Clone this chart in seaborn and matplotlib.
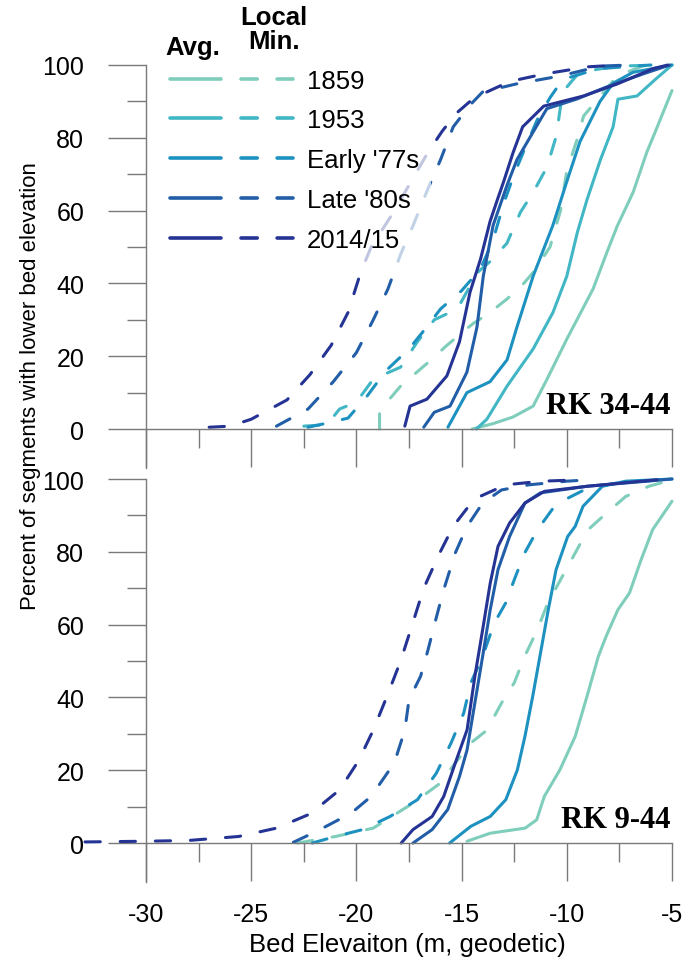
import numpy as np
import pandas as pd
import seaborn as sns
import matplotlib
matplotlib.use("Agg")
import matplotlib.pyplot as plt
from matplotlib.legend_handler import HandlerTuple
from matplotlib.lines import Line2D
from matplotlib.ticker import FixedLocator

# ---------------- data ----------------
periods = ["1859", "1953", "Early '77s", "Late '80s", "2014/15"]
colors = ["#7fcdbb", "#41b6c4", "#1d91c0", "#225ea8", "#253494"]
kinds = ["Avg.", "Local\nMin."]
panel_labels = ["RK 34-44", "RK 9-44"]

x_major = [-30, -25, -20, -15, -10, -5]
x_minor = [-27.5, -22.5, -17.5, -12.5, -7.5]
y_major = [0, 20, 40, 60, 80, 100]
y_minor = [10, 30, 50, 70, 90]

# ---- top panel (RK 34-44) : average bed elevation ----
top_avg_1859_x = [-14.5, -13.5, -12.56, -11.6, -10.94, -10.0, -8.75, -8.09, -7.6, -6.85, -6.2, -5.7, -5.0]
top_avg_1859_y = [0, 1.5, 3.3, 6.3, 13.7, 24.7, 38.5, 48.6, 55.8, 65, 76, 83, 93]
top_avg_1953_x = [-14.3, -13.8, -12.84, -11.6, -10.66, -10.0, -9.5, -9.04, -8.4, -7.8, -7.57, -6.66, -5.8, -5.0]
top_avg_1953_y = [0, 2.7, 11.8, 22, 32, 42, 54, 63, 74, 83, 90.6, 91.5, 96, 100]
top_avg_1977_x = [-15.65, -14.75, -13.65, -12.84, -12.37, -11.6, -10.66, -10.0, -9.37, -8.42, -7.8, -6.85, -5.0]
top_avg_1977_y = [0.5, 10, 13, 19, 28, 42, 56, 68, 79, 90, 95, 98, 100]
top_avg_1980_x = [-16.8, -16.3, -15.55, -14.75, -14.27, -13.97, -13.5, -12.84, -12.37, -11.6, -10.95, -9.5, -8.1, -6.4, -5.1]
top_avg_1980_y = [0.5, 4.6, 6.3, 15.6, 28, 42, 56, 67, 74, 81.6, 88, 90.7, 94, 97.5, 100]
top_avg_2014_x = [-17.7, -17.45, -16.65, -15.7, -15.1, -14.6, -14.1, -13.65, -13.3, -13.0, -12.55, -12.1, -11.1, -9.2, -7.6, -5.9, -5.2]
top_avg_2014_y = [0.8, 6.3, 8.2, 14.6, 24, 37.6, 46.7, 57, 63, 68, 76, 83, 88.7, 91.5, 94.8, 99, 100]

# ---- top panel : local minimum bed elevation ----
top_min_1859_x = [-18.9, -18.9, -17.9, -16.65, -15.7, -14.45, -13.65, -12.85, -12.2, -11.6, -10.8, -10.3, -10.0, -9.5, -9.2, -8.4, -7.6, -6.4, -5.5]
top_min_1859_y = [0, 5, 11.8, 18, 23, 29, 32, 35.7, 39, 43, 50, 60, 71, 79.7, 86, 91.5, 97, 99.7, 100]
top_min_1953_x = [-22.5, -21.4, -20.8, -20.0, -19.2, -17.9, -17.1, -16.3, -15.2, -14.25, -13.65, -12.85, -12.2, -11.6, -10.94, -10.5, -10.2, -9.4, -7.6, -5.5]
top_min_1953_y = [0.8, 1.2, 5.5, 7.4, 13.7, 17, 24, 30, 33, 43, 46, 51, 59.6, 65, 72, 80.5, 92.6, 98, 99.7, 100]
top_min_1977_x = [-22.3, -21.5, -20.4, -19.5, -18.6, -17.5, -16.8, -16.0, -15.0, -14.1, -13.5, -13.0, -12.5, -12.0, -11.4, -10.8, -10.2, -8.5, -6.0]
top_min_1977_y = [0.5, 1.5, 3, 9, 16, 22, 27, 33, 38, 44, 52, 62, 70, 77, 85, 91, 96, 99, 100]
top_min_1980_x = [-23.8, -22.3, -21.1, -20.0, -19.2, -18.5, -17.9, -17.3, -16.6, -16.0, -15.4, -14.6, -14.0, -12.4, -10.3, -8.4, -7.0]
top_min_1980_y = [0.8, 5.5, 13, 21, 30, 38.5, 48, 56, 66, 74, 83, 89, 92.6, 94.8, 97, 99.7, 100]
top_min_2014_x = [-27.0, -26.0, -25.0, -23.3, -22.2, -21.2, -20.4, -19.8, -19.3, -18.3, -17.4, -16.6, -15.9, -15.2, -14.4, -12.7, -11.1, -9.0, -7.5]
top_min_2014_y = [0.5, 0.8, 2.7, 8, 15, 23, 32, 43, 50, 59, 68, 76, 82, 87, 91, 95.5, 97.5, 99.5, 100]

# ---- bottom panel (RK 9-44) : average bed elevation ----
bot_avg_1859_x = [-14.74, -13.64, -11.98, -11.43, -11.07, -10.33, -9.6, -9.04, -8.5, -8.13, -7.57, -7.02, -6.47, -5.92, -5.0]
bot_avg_1859_y = [0.5, 2.7, 4.1, 6.4, 12.8, 20.1, 29.3, 40.3, 51.3, 56.8, 64.1, 68.7, 77.8, 86.1, 93.9]
bot_avg_1977_x = [-15.57, -14.56, -13.64, -12.9, -12.35, -11.99, -11.62, -11.25, -10.88, -10.51, -9.96, -9.6, -9.23, -8.31, -7.2, -5.0]
bot_avg_1977_y = [0, 4.6, 7.3, 11.9, 20.1, 29.3, 40.3, 52.2, 64.1, 75.1, 84.2, 87, 92.5, 98, 99.4, 100]
bot_avg_1980_x = [-17.31, -16.4, -15.66, -15.1, -14.74, -14.37, -14.0, -13.64, -13.27, -12.72, -11.99, -11.25, -9.04, -7.2, -5.0]
bot_avg_1980_y = [0, 3.7, 9.2, 18.3, 25.6, 38.5, 51.3, 64.1, 75.1, 84.2, 93.4, 96.2, 98, 98.9, 100]
bot_avg_2014_x = [-17.87, -17.31, -16.4, -15.85, -15.3, -14.74, -14.37, -14.0, -13.64, -13.27, -12.72, -11.99, -11.07, -9.04, -5.7]
bot_avg_2014_y = [0, 3.7, 7.3, 12.8, 22, 31.1, 45.8, 58.6, 71.4, 81.5, 87.9, 93.4, 96.6, 98, 99.8]

# ---- bottom panel : local minimum bed elevation ----
bot_min_1859_x = [-22.8, -21.0, -19.2, -17.3, -16.0, -15.3, -14.56, -13.8, -13.1, -12.5, -12.0, -11.4, -10.9, -10.3, -9.6, -9.0, -8.1, -7.2, -6.1, -5.0]
bot_min_1859_y = [0, 1.8, 4.1, 11, 16.5, 22, 27.5, 31, 38.5, 44, 51.3, 58.6, 66, 72.3, 79.7, 86, 90.7, 95.2, 98, 99.8]
bot_min_1977_x = [-22.1, -21.0, -19.7, -18.4, -17.1, -16.2, -15.5, -14.9, -14.56, -14.0, -13.45, -12.9, -12.5, -12.0, -11.4, -10.7, -10.1, -9.0, -7.6, -5.4]
bot_min_1977_y = [0, 1.8, 3.7, 7.3, 11.9, 19.2, 27.5, 35.7, 44, 51.3, 60.4, 66, 72.3, 79.7, 86, 91.6, 94.3, 97.5, 98.9, 99.8]
bot_min_1980_x = [-23.0, -21.9, -20.25, -19.3, -18.2, -17.7, -17.5, -16.95, -16.6, -16.2, -15.85, -15.3, -14.74, -14.0, -13.1, -11.8, -10.0, -8.9]
bot_min_1980_y = [0.2, 3.2, 8.2, 12.8, 22, 31, 39.4, 45.8, 53, 62, 69.6, 79.7, 87, 93.4, 97, 98.4, 99.4, 99.8]
bot_min_2014_x = [-32.9, -30.0, -28.0, -25.6, -23.8, -22.2, -20.8, -19.9, -19.2, -18.5, -17.9, -17.4, -16.8, -16.1, -15.4, -14.4, -12.9, -11.2, -9.2]
bot_min_2014_y = [0.3, 0.5, 0.7, 1.8, 4.1, 8, 14.6, 22.6, 31, 41, 50, 59, 70, 79, 87, 94.5, 98.4, 99.4, 99.8]

series = [
    (0, "Avg.", "1859", top_avg_1859_x, top_avg_1859_y),
    (0, "Avg.", "1953", top_avg_1953_x, top_avg_1953_y),
    (0, "Avg.", "Early '77s", top_avg_1977_x, top_avg_1977_y),
    (0, "Avg.", "Late '80s", top_avg_1980_x, top_avg_1980_y),
    (0, "Avg.", "2014/15", top_avg_2014_x, top_avg_2014_y),
    (0, "Local\nMin.", "1859", top_min_1859_x, top_min_1859_y),
    (0, "Local\nMin.", "1953", top_min_1953_x, top_min_1953_y),
    (0, "Local\nMin.", "Early '77s", top_min_1977_x, top_min_1977_y),
    (0, "Local\nMin.", "Late '80s", top_min_1980_x, top_min_1980_y),
    (0, "Local\nMin.", "2014/15", top_min_2014_x, top_min_2014_y),
    (1, "Avg.", "1859", bot_avg_1859_x, bot_avg_1859_y),
    (1, "Avg.", "Early '77s", bot_avg_1977_x, bot_avg_1977_y),
    (1, "Avg.", "Late '80s", bot_avg_1980_x, bot_avg_1980_y),
    (1, "Avg.", "2014/15", bot_avg_2014_x, bot_avg_2014_y),
    (1, "Local\nMin.", "1859", bot_min_1859_x, bot_min_1859_y),
    (1, "Local\nMin.", "Early '77s", bot_min_1977_x, bot_min_1977_y),
    (1, "Local\nMin.", "Late '80s", bot_min_1980_x, bot_min_1980_y),
    (1, "Local\nMin.", "2014/15", bot_min_2014_x, bot_min_2014_y),
]

rows = []
for panel, kind, period, xs, ys in series:
    for xv, yv in zip(xs, ys):
        rows.append({"panel": panel, "kind": kind, "period": period, "elev": xv, "pct": yv})
df = pd.DataFrame(rows)

# ---------------- styling ----------------
sns.set_theme(style="white")
plt.rcParams["font.family"] = ["Liberation Sans", "DejaVu Sans"]
plt.rcParams["text.color"] = "black"
plt.rcParams["axes.labelcolor"] = "black"
plt.rcParams["xtick.color"] = "black"
plt.rcParams["ytick.color"] = "black"

W, H = 690, 962
fig = plt.figure(figsize=(W / 100, H / 100), dpi=100)
left = 76.6 / W
width = (672 - 76.6) / W
ax_top = fig.add_axes([left, 1 - 469 / H, width, (469 - 66) / H])
ax_bot = fig.add_axes([left, 1 - 883 / H, width, (883 - 480) / H])
axes = [ax_top, ax_bot]

palette = dict(zip(periods, colors))
dash_map = {"Avg.": "", "Local\nMin.": (5, 6.5)}
LW = 2.2
spine_col = "#7a7a7a"

for p, ax in enumerate(axes):
    sub = df[df["panel"] == p]
    sns.lineplot(data=sub, x="elev", y="pct", hue="period", style="kind",
                 hue_order=periods, style_order=kinds, palette=palette,
                 dashes=dash_map, estimator=None, sort=False, legend=False, ax=ax,
                 lw=LW, solid_capstyle="round", dash_capstyle="round",
                 solid_joinstyle="round", clip_on=False)
    ax.set_xlim(-33.3, -5)
    ax.set_ylim(-10.7, 100)
    for s in ["top", "right"]:
        ax.spines[s].set_visible(False)
    ax.spines["left"].set_position(("data", -30))
    ax.spines["bottom"].set_position(("data", 0))
    ax.spines["bottom"].set_bounds(-30, -5)
    for s in ["left", "bottom"]:
        ax.spines[s].set_color(spine_col)
        ax.spines[s].set_linewidth(1.0)
    ax.xaxis.set_major_locator(FixedLocator(x_major))
    ax.xaxis.set_minor_locator(FixedLocator(x_minor))
    ax.yaxis.set_major_locator(FixedLocator(y_major))
    ax.yaxis.set_minor_locator(FixedLocator(y_minor))
    ax.set_xticklabels([str(v) for v in x_major])
    ax.set_yticklabels([str(v) for v in y_major])
    ax.tick_params(which="major", direction="out", length=27.4, width=1.0,
                   color=spine_col, labelcolor="black", labelsize=18,
                   left=True, bottom=True)
    ax.tick_params(which="minor", direction="out", length=13.7, width=1.0,
                   color=spine_col, left=True, bottom=True)
    ax.tick_params(axis="y", which="major", pad=17)
    ax.tick_params(axis="x", which="major", pad=15)
    ax.set_xlabel("")
    ax.set_ylabel("")
    ax.grid(False)
    ax.patch.set_alpha(0)
    ax.text(-5.05, 6.6, panel_labels[p], ha="right", va="center", color="black",
            fontfamily="Liberation Serif", fontweight="bold", fontsize=22)

ax_top.tick_params(axis="x", labelbottom=False)
ax_bot.set_xlabel("Bed Elevaiton (m, geodetic)", fontsize=18.5, color="black")
ax_bot.xaxis.set_label_coords((407 - 76.6) / (672 - 76.6), -(933 - 883) / (883 - 480))
ax_bot.xaxis.label.set_va("top")

fig.text(31 / W, 1 - 386 / H, "Percent of segments with lower bed elevation",
         rotation=90, ha="center", va="center", fontsize=16, color="black")

# legend: solid + dashed pair per period
handles = []
for per, col in zip(periods, colors):
    h1 = Line2D([], [], color=col, lw=2.6, solid_capstyle="round")
    h2 = Line2D([], [], color=col, lw=2.6, linestyle=(0, (4.5, 5.5)), dash_capstyle="round")
    handles.append((h1, h2))
leg = ax_top.legend(handles=handles, labels=periods,
                    handler_map={tuple: HandlerTuple(ndivide=None, pad=0.78)},
                    handlelength=4.8, handletextpad=0.55, labelspacing=0.62,
                    fontsize=18.5, frameon=True, framealpha=0.72, facecolor="white",
                    edgecolor="none", borderpad=0.45, loc="upper left",
                    bbox_to_anchor=(158 / W, 1 - 58 / H), bbox_transform=fig.transFigure,
                    borderaxespad=0)
for t in leg.get_texts():
    t.set_color("black")

fig.text(193 / W, 1 - 48 / H, kinds[0], ha="center", va="center",
         fontsize=18.5, fontweight="bold", color="black")
fig.text(274 / W, 1 - 30 / H, kinds[1], ha="center", va="center",
         fontsize=18.5, fontweight="bold", linespacing=1.05, multialignment="center",
         color="black")

fig.savefig("out.png", dpi=100)
